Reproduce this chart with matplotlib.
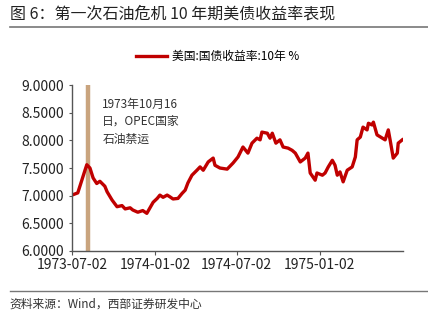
import pandas as pd
import matplotlib.pyplot as plt
import matplotlib.dates as mdates

plt.rcParams['font.family'] = ['Noto Sans CJK SC', 'DejaVu Sans']

# 10-year US Treasury yield
dates = [
    '1973-07-02', '1973-07-15', '1973-07-24', '1973-07-31', '1973-08-04', '1973-08-11',
    '1973-08-18', '1973-08-26', '1973-09-02', '1973-09-13', '1973-09-18', '1973-09-29',
    '1973-10-10', '1973-10-21', '1973-10-28', '1973-11-08', '1973-11-14', '1973-11-25',
    '1973-12-06', '1973-12-15', '1973-12-22', '1973-12-29', '1974-01-07', '1974-01-13',
    '1974-01-20', '1974-01-29', '1974-02-04', '1974-02-11', '1974-02-22', '1974-03-03',
    '1974-03-10', '1974-03-16', '1974-03-25', '1974-04-05', '1974-04-12', '1974-04-19',
    '1974-04-30', '1974-05-11', '1974-05-15', '1974-05-26', '1974-06-11', '1974-06-24',
    '1974-07-05', '1974-07-16', '1974-07-27', '1974-08-05', '1974-08-16', '1974-08-23',
    '1974-08-27', '1974-09-08', '1974-09-14', '1974-09-19', '1974-09-27', '1974-10-06',
    '1974-10-13', '1974-10-24', '1974-11-02', '1974-11-09', '1974-11-20', '1974-12-01',
    '1974-12-07', '1974-12-12', '1974-12-23', '1974-12-27', '1975-01-08', '1975-01-14',
    '1975-01-21', '1975-01-30', '1975-02-05', '1975-02-10', '1975-02-16', '1975-02-23',
    '1975-03-04', '1975-03-15', '1975-03-22', '1975-03-26', '1975-04-02', '1975-04-08',
    '1975-04-17', '1975-04-20', '1975-04-28', '1975-05-01', '1975-05-09', '1975-05-21',
    '1975-05-27', '1975-06-03', '1975-06-07', '1975-06-14', '1975-06-23', '1975-06-25',
    '1975-07-04',
]
yields = [
    7.01, 7.05, 7.28, 7.46, 7.56, 7.50,
    7.32, 7.22, 7.26, 7.17, 7.07, 6.92,
    6.80, 6.82, 6.76, 6.78, 6.74, 6.70,
    6.73, 6.68, 6.78, 6.88, 6.95, 7.01,
    6.97, 7.01, 6.98, 6.94, 6.95, 7.04,
    7.10, 7.23, 7.37, 7.46, 7.52, 7.46,
    7.61, 7.68, 7.55, 7.50, 7.48, 7.59,
    7.70, 7.88, 7.77, 7.95, 8.04, 8.01,
    8.15, 8.13, 8.04, 8.13, 7.95, 8.01,
    7.88, 7.86, 7.82, 7.77, 7.61, 7.68,
    7.77, 7.41, 7.28, 7.41, 7.37, 7.41,
    7.52, 7.64, 7.55, 7.37, 7.43, 7.25,
    7.46, 7.52, 7.70, 8.01, 8.06, 8.24,
    8.19, 8.31, 8.28, 8.33, 8.10, 8.04,
    8.01, 8.19, 8.01, 7.68, 7.77, 7.95,
    8.01,
]
event_date = '1973-08-06'
tick_dates = ['1973-07-02', '1974-01-02', '1974-07-02', '1975-01-02']
y_ticks = [6.0, 6.5, 7.0, 7.5, 8.0, 8.5, 9.0]

dates = pd.to_datetime(dates)

fig = plt.figure(figsize=(4.28, 3.25), dpi=100)
ax = fig.add_axes([0.168, 0.228, 0.774, 0.51])

ax.axvline(pd.Timestamp(event_date), color='#C9A47E', linewidth=3.2, zorder=1)
line, = ax.plot(dates, yields, color='#C00000', linewidth=2.4, zorder=2,
                label='美国:国债收益率:10年 %')

ax.set_ylim(6.0, 9.0)
ax.set_yticks(y_ticks)
ax.set_yticklabels([f'{v:.4f}' for v in y_ticks])
ax.set_xlim(pd.Timestamp('1973-07-02'), pd.Timestamp('1975-07-06'))
ax.set_xticks(pd.to_datetime(tick_dates))
ax.xaxis.set_major_formatter(mdates.DateFormatter('%Y-%m-%d'))

for side in ['top', 'right']:
    ax.spines[side].set_visible(False)
for side in ['left', 'bottom']:
    ax.spines[side].set_color('#555555')
    ax.spines[side].set_linewidth(1.0)
ax.tick_params(axis='both', colors='#555555', labelcolor='#222222',
               labelsize=10, length=3, direction='out', pad=2)
ax.tick_params(axis='y', length=2.5, pad=3)

ax.text(0.092, 0.925, '1973年10月16\n日，OPEC国家\n石油禁运', transform=ax.transAxes,
        fontsize=8.5, color='#333333', va='top', ha='left', linespacing=1.45)

fig.legend(handles=[line], loc='center', bbox_to_anchor=(0.508, 0.825), frameon=False,
           fontsize=8.5, handlelength=2.7, handletextpad=0.4)

fig.text(0.023, 0.957, '图 6：第一次石油危机 10 年期美债收益率表现', fontsize=11.5,
         color='#222222', ha='left', va='center')
fig.add_artist(plt.Line2D([0.023, 1.0], [0.917, 0.917], color='#777777', linewidth=1.2))
fig.add_artist(plt.Line2D([0.023, 1.0], [0.105, 0.105], color='#777777', linewidth=1.0))
fig.text(0.023, 0.064, '资料来源：Wind，西部证券研发中心', fontsize=8.5,
         color='#333333', ha='left', va='center')

fig.savefig('out.png', dpi=100)
